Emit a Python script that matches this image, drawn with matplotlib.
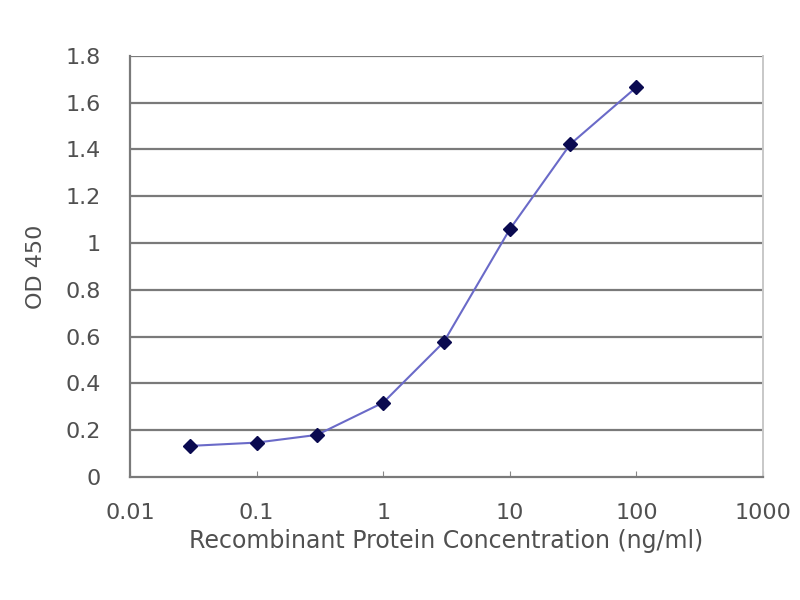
import matplotlib
matplotlib.use("Agg")
import matplotlib.pyplot as plt

concentration = [0.03, 0.1, 0.3, 1, 3, 10, 30, 100]
od450 = [0.133, 0.147, 0.18, 0.318, 0.576, 1.059, 1.422, 1.666]
x_ticks = [0.01, 0.1, 1, 10, 100, 1000]
x_tick_labels = ["0.01", "0.1", "1", "10", "100", "1000"]
y_ticks = [0, 0.2, 0.4, 0.6, 0.8, 1.0, 1.2, 1.4, 1.6, 1.8]
y_tick_labels = ["0", "0.2", "0.4", "0.6", "0.8", "1", "1.2", "1.4", "1.6", "1.8"]

plt.rcParams['font.family'] = ['DejaVu Sans']
fig = plt.figure(figsize=(8, 6), dpi=100)
ax = fig.add_axes([0.1625, 0.205, 0.7913, 0.702])

ax.set_xscale('log')
ax.set_xlim(0.01, 1000)
ax.set_ylim(0, 1.8)

for y in y_ticks[1:]:
    ax.axhline(y, color='#7a7a7a', lw=1.6, zorder=1)

ax.plot(concentration, od450, color='#6a6ac8', lw=1.5, zorder=2)
ax.plot(concentration, od450, linestyle='none', marker='D', markersize=7,
        color='#0a0a50', zorder=3)

ax.set_xticks(x_ticks)
ax.set_xticklabels(x_tick_labels)
ax.minorticks_off()
ax.set_yticks(y_ticks)
ax.set_yticklabels(y_tick_labels)
ax.tick_params(axis='x', direction='in', length=4, color='#888888', labelsize=16,
               labelcolor='#505050', pad=19)
ax.tick_params(axis='y', length=0, labelsize=16, labelcolor='#505050', pad=21)

for s in ['left', 'bottom']:
    ax.spines[s].set_color('#7a7a7a')
    ax.spines[s].set_linewidth(1.6)
ax.spines['top'].set_visible(False)
ax.spines['right'].set_color('#c8c8c8')
ax.spines['right'].set_linewidth(1.4)

ax.set_xlabel('Recombinant Protein Concentration (ng/ml)', fontsize=17,
              color='#505050', labelpad=4)
ax.set_ylabel('OD 450', fontsize=16, color='#505050', labelpad=14)

fig.savefig('out.png', dpi=100, facecolor='white')
